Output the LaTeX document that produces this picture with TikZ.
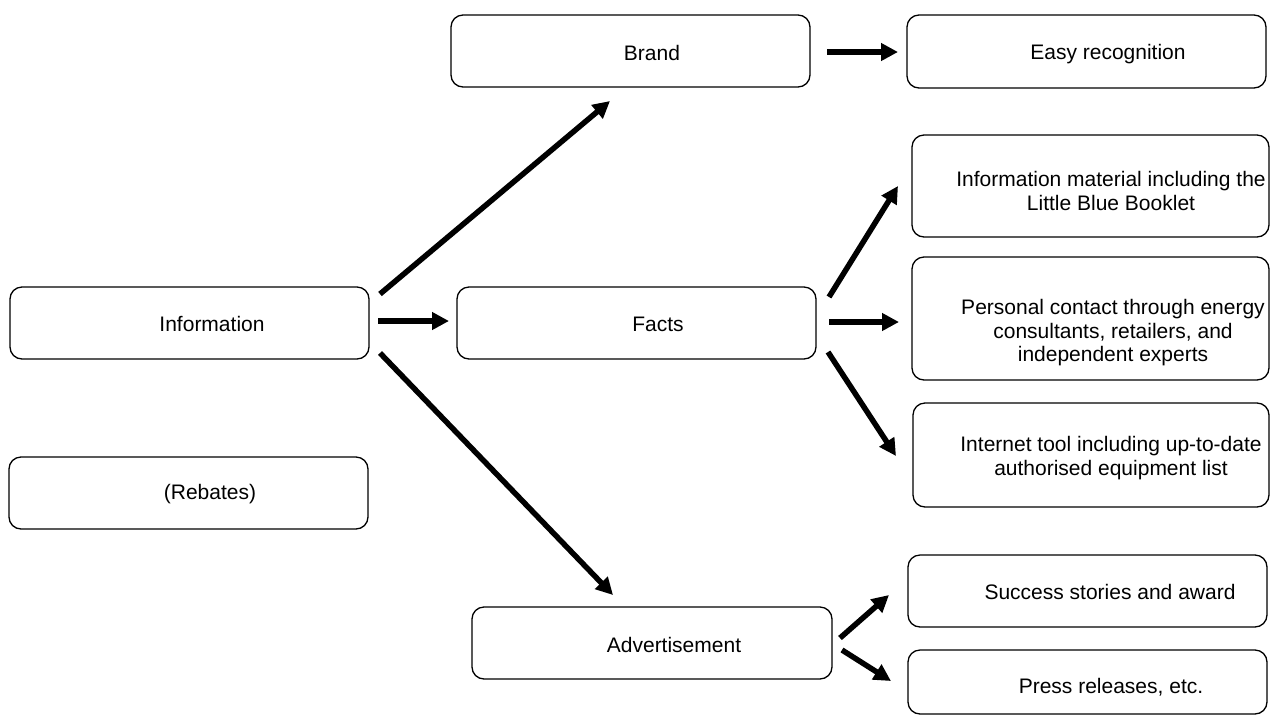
\documentclass[tikz,border=0pt]{standalone}
\usepackage{fontspec}
\setmainfont{Liberation Sans}
\usetikzlibrary{arrows.meta}
\begin{document}
\begin{tikzpicture}[x=1pt,y=-1pt,
  box/.style={draw, line width=1.3pt, rounded corners=12pt, inner sep=0pt},
  txt/.style={inner sep=0pt, align=center, font=\fontsize{21}{23.5}\selectfont, yshift=-2pt},
  arr/.style={line width=5.5pt, -{Triangle[length=17pt,width=17pt]}}]
\useasboundingbox (0,0) rectangle (1270,716);
% boxes
\node[box, minimum width=359pt, minimum height=72pt] (info) at (189.5,323) {};
\node[box, minimum width=359pt, minimum height=72pt] (reb) at (188.5,493) {};
\node[box, minimum width=359pt, minimum height=72pt] (brand) at (630.5,51) {};
\node[box, minimum width=359pt, minimum height=72pt] (facts) at (636.5,323) {};
\node[box, minimum width=360pt, minimum height=72pt] (ad) at (652,643) {};
\node[box, minimum width=359pt, minimum height=73pt] (easy) at (1086.5,51.5) {};
\node[box, minimum width=357pt, minimum height=102pt] (mat) at (1090.5,186) {};
\node[box, minimum width=357pt, minimum height=123pt] (pers) at (1090.5,318.5) {};
\node[box, minimum width=356pt, minimum height=104pt] (inet) at (1091,455) {};
\node[box, minimum width=359pt, minimum height=72pt] (succ) at (1087.5,591) {};
\node[box, minimum width=359pt, minimum height=64pt] (press) at (1087.5,682) {};
% texts
\node[txt] (info-t) at (212,322) {Information};
\node[txt] (reb-t) at (210,492) {(Rebates)};
\node[txt] (brand-t) at (652,51) {Brand};
\node[txt] (facts-t) at (658,322) {Facts};
\node[txt] (ad-t) at (674,643) {Advertisement};
\node[txt] (easy-t) at (1108,52) {Easy recognition};
\node[txt] (mat-t) at (1111,189) {Information material including the\\Little Blue Booklet};
\node[txt] (pers-t) at (1113,331) {Personal contact through energy\\consultants, retailers, and\\independent experts};
\node[txt] (inet-t) at (1111,456) {Internet tool including up-to-date\\authorised equipment list};
\node[txt] (succ-t) at (1110,590) {Success stories and award};
\node[txt] (press-t) at (1111,685) {Press releases, etc.};
% connector end points
\coordinate (ib0) at (380,294); \coordinate (ib1) at (610,101);
\coordinate (if0) at (378,321); \coordinate (if1) at (449,321);
\coordinate (ia0) at (380,353); \coordinate (ia1) at (613,595);
\coordinate (be0) at (827,52);  \coordinate (be1) at (898,52);
\coordinate (fm0) at (829,297); \coordinate (fm1) at (898,186);
\coordinate (fp0) at (829,322); \coordinate (fp1) at (899,322);
\coordinate (fi0) at (828,352); \coordinate (fi1) at (896,456);
\coordinate (as0) at (840,638); \coordinate (as1) at (889,595);
\coordinate (ap0) at (842,650); \coordinate (ap1) at (891,681);
% connectors
\draw[arr] (ib0) -- (ib1);
\draw[arr] (if0) -- (if1);
\draw[arr] (ia0) -- (ia1);
\draw[arr] (be0) -- (be1);
\draw[arr] (fm0) -- (fm1);
\draw[arr] (fp0) -- (fp1);
\draw[arr] (fi0) -- (fi1);
\draw[arr] (as0) -- (as1);
\draw[arr] (ap0) -- (ap1);
\end{tikzpicture}
\end{document}
